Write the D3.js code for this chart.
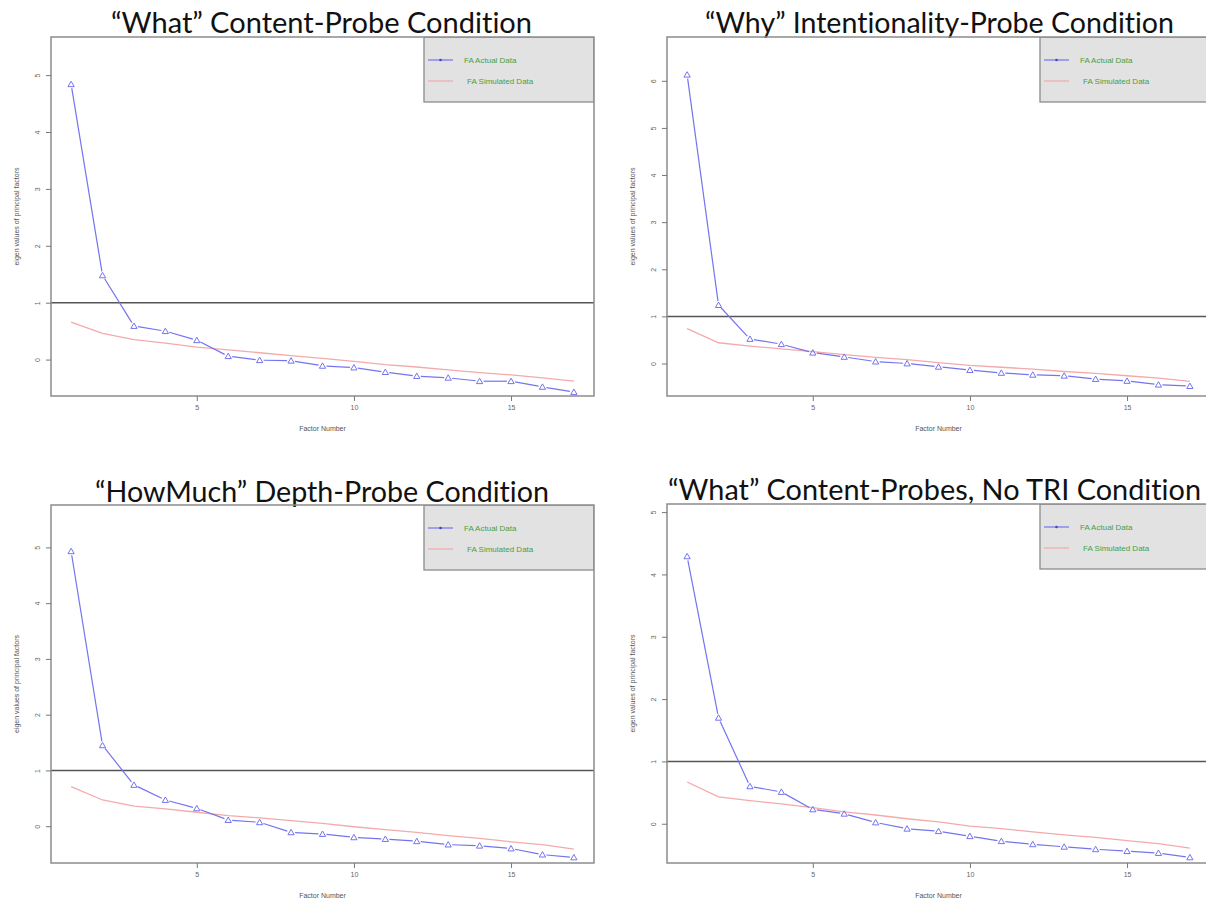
<!DOCTYPE html>
<html>
<head>
<meta charset="utf-8">
<script src="https://cdn.jsdelivr.net/npm/d3@7/dist/d3.min.js"></script>
<style>
  html, body { margin: 0; padding: 0; background: #fff; }
  svg { display: block; }
  .tick-label { font-family: "Liberation Sans", Arial, sans-serif; font-size: 7px; fill: #666; }
  .axis-title { font-family: "Liberation Sans", Arial, sans-serif; font-size: 7px; fill: #555; }
  .legend-text { font-family: "Liberation Sans", Arial, sans-serif; font-size: 8px; fill: #45a045; }
  .panel-title { font-family: "Lato", "Open Sans", sans-serif; font-size: 29px; fill: #111;
                 font-variant-ligatures: none; font-feature-settings: "liga" 0, "clig" 0; }
</style>
</head>
<body>
<svg id="chart" width="1206" height="903"></svg>
<script>
// Factor numbers on the x axis
const factors = [1, 2, 3, 4, 5, 6, 7, 8, 9, 10, 11, 12, 13, 14, 15, 16, 17];

// Panel titles
const titles = [
  "\u201CWhat\u201D Content-Probe Condition",
  "\u201CWhy\u201D Intentionality-Probe Condition",
  "\u201CHowMuch\u201D Depth-Probe Condition",
  "\u201CWhat\u201D Content-Probes, No TRI Condition"
];

// Eigenvalues of the principal factors, actual data
const actualWhat    = [4.84, 1.48, 0.59, 0.50, 0.34, 0.06, -0.01, -0.02, -0.11, -0.14, -0.22, -0.29, -0.32, -0.38, -0.38, -0.48, -0.57];
const actualWhy     = [6.13, 1.24, 0.52, 0.41, 0.23, 0.14, 0.04, 0.00, -0.07, -0.14, -0.20, -0.24, -0.26, -0.33, -0.37, -0.45, -0.48];
const actualHowMuch = [4.93, 1.45, 0.74, 0.47, 0.32, 0.11, 0.07, -0.11, -0.14, -0.20, -0.23, -0.27, -0.33, -0.35, -0.40, -0.51, -0.56];
const actualNoTRI   = [4.29, 1.70, 0.60, 0.51, 0.23, 0.16, 0.02, -0.08, -0.12, -0.20, -0.28, -0.33, -0.37, -0.41, -0.44, -0.47, -0.54];

// Eigenvalues from simulated (random) data
const simWhat    = [0.66, 0.46, 0.35, 0.29, 0.22, 0.17, 0.12, 0.07, 0.02, -0.03, -0.09, -0.13, -0.18, -0.23, -0.27, -0.32, -0.38];
const simWhy     = [0.74, 0.44, 0.37, 0.31, 0.25, 0.19, 0.13, 0.08, 0.02, -0.04, -0.08, -0.12, -0.17, -0.21, -0.26, -0.31, -0.38];
const simHowMuch = [0.71, 0.47, 0.36, 0.31, 0.25, 0.19, 0.15, 0.10, 0.05, -0.01, -0.06, -0.11, -0.17, -0.22, -0.28, -0.33, -0.41];
const simNoTRI   = [0.67, 0.43, 0.37, 0.32, 0.26, 0.19, 0.14, 0.08, 0.03, -0.04, -0.08, -0.13, -0.18, -0.22, -0.27, -0.32, -0.39];

// Axis tick values
const xTicks = [5, 10, 15];
const yTicksFive = [0, 1, 2, 3, 4, 5];
const yTicksSix  = [0, 1, 2, 3, 4, 5, 6];

// Reference line (eigenvalue = 1, Kaiser criterion)
const kaiserLine = 1;

// Legend labels
const legendLabels = ["FA  Actual Data", "FA  Simulated Data"];

// Plot frames and axis limits for each panel
const layout = [
  { left: 51,  top: 37,  right: 594,  bottom: 396, yMin: -0.64, yMax: 5.67, titleX: 111, titleW: 421, titleY: 33 },
  { left: 667, top: 37,  right: 1210, bottom: 396, yMin: -0.69, yMax: 6.93, titleX: 705, titleW: 469, titleY: 33 },
  { left: 51,  top: 505, right: 594,  bottom: 863, yMin: -0.66, yMax: 5.76, titleX: 95,  titleW: 454, titleY: 502 },
  { left: 667, top: 504, right: 1210, bottom: 863, yMin: -0.63, yMax: 5.13, titleX: 668, titleW: 533, titleY: 500 }
];

const panels = [
  { title: titles[0], actual: actualWhat,    sim: simWhat,    yTicks: yTicksFive },
  { title: titles[1], actual: actualWhy,     sim: simWhy,     yTicks: yTicksSix },
  { title: titles[2], actual: actualHowMuch, sim: simHowMuch, yTicks: yTicksFive },
  { title: titles[3], actual: actualNoTRI,   sim: simNoTRI,   yTicks: yTicksFive }
];

const blue = "#7474f0";
const pink = "#f4aaaa";
const frameColor = "#8c8c8c";

const svg = d3.select("#chart");

panels.forEach((p, i) => {
  const L = layout[i];
  const g = svg.append("g");

  const x = d3.scaleLinear().domain([0.36, 17.64]).range([L.left, L.right]);
  const y = d3.scaleLinear().domain([L.yMin, L.yMax]).range([L.bottom, L.top]);

  // Title
  g.append("text")
    .attr("class", "panel-title")
    .attr("x", L.titleX)
    .attr("y", L.titleY)
    .attr("textLength", L.titleW)
    .attr("lengthAdjust", "spacingAndGlyphs")
    .text(p.title);

  // Clip region for everything drawn inside the frame
  const clipId = "clip" + i;
  g.append("clipPath").attr("id", clipId)
    .append("rect")
    .attr("x", L.left).attr("y", L.top)
    .attr("width", L.right - L.left).attr("height", L.bottom - L.top);

  const inner = g.append("g").attr("clip-path", `url(#${clipId})`);

  // Kaiser reference line
  inner.append("line")
    .attr("x1", L.left).attr("x2", L.right)
    .attr("y1", y(kaiserLine)).attr("y2", y(kaiserLine))
    .attr("stroke", "#555").attr("stroke-width", 1.5);

  // Simulated data line
  const line = d3.line().x((d, k) => x(factors[k])).y(d => y(d));
  inner.append("path")
    .datum(p.sim)
    .attr("d", line)
    .attr("fill", "none")
    .attr("stroke", pink)
    .attr("stroke-width", 1.3);

  // Actual data: line segments with gaps around the point symbols
  const pts = p.actual.map((v, k) => [x(factors[k]), y(v)]);
  const gap = 4;
  for (let k = 0; k < pts.length - 1; k++) {
    const [x0, y0] = pts[k], [x1, y1] = pts[k + 1];
    const len = Math.hypot(x1 - x0, y1 - y0);
    if (len <= 2 * gap) continue;
    const ux = (x1 - x0) / len, uy = (y1 - y0) / len;
    inner.append("line")
      .attr("x1", x0 + ux * gap).attr("y1", y0 + uy * gap)
      .attr("x2", x1 - ux * gap).attr("y2", y1 - uy * gap)
      .attr("stroke", blue).attr("stroke-width", 1.2);
  }

  // Open triangle markers
  const tri = d3.symbol().type(d3.symbolTriangle).size(17);
  inner.selectAll("path.pt")
    .data(p.actual)
    .join("path")
    .attr("class", "pt")
    .attr("d", tri)
    .attr("transform", (d, k) => `translate(${x(factors[k])},${y(d) + 0.6})`)
    .attr("fill", "none")
    .attr("stroke", blue)
    .attr("stroke-width", 1);

  // Legend box
  const lw = 170, lh = 65;
  const lx = L.right - lw, ly = L.top;
  inner.append("rect")
    .attr("x", lx).attr("y", ly).attr("width", lw).attr("height", lh)
    .attr("fill", "#e2e2e2").attr("stroke", frameColor).attr("stroke-width", 1.3);

  // Legend: actual data
  inner.append("line")
    .attr("x1", lx + 4).attr("x2", lx + 29)
    .attr("y1", ly + 23).attr("y2", ly + 23)
    .attr("stroke", blue).attr("stroke-width", 1.2);
  inner.append("circle")
    .attr("cx", lx + 16.5).attr("cy", ly + 23).attr("r", 1.3)
    .attr("fill", "#4545c8");
  inner.append("text").attr("class", "legend-text")
    .attr("x", lx + 40).attr("y", ly + 26)
    .text(legendLabels[0]);

  // Legend: simulated data
  inner.append("line")
    .attr("x1", lx + 4).attr("x2", lx + 29)
    .attr("y1", ly + 44).attr("y2", ly + 44)
    .attr("stroke", pink).attr("stroke-width", 1.2);
  inner.append("text").attr("class", "legend-text")
    .attr("x", lx + 43).attr("y", ly + 47)
    .text(legendLabels[1]);

  // Frame
  g.append("rect")
    .attr("x", L.left).attr("y", L.top)
    .attr("width", L.right - L.left).attr("height", L.bottom - L.top)
    .attr("fill", "none").attr("stroke", frameColor).attr("stroke-width", 1.5);

  // X axis
  const xAxis = d3.axisBottom(x).tickValues(xTicks).tickSize(5).tickPadding(4).tickFormat(d3.format("d"));
  const xa = g.append("g").attr("transform", `translate(0,${L.bottom})`).call(xAxis);
  xa.select(".domain").remove();
  xa.selectAll(".tick line").attr("stroke", "#777");
  xa.selectAll(".tick text").attr("class", "tick-label").attr("font-size", null).attr("font-family", null).attr("fill", null);

  // Y axis with labels parallel to the axis
  const yAxis = d3.axisLeft(y).tickValues(p.yTicks).tickSize(5).tickFormat(d3.format("d"));
  const ya = g.append("g").attr("transform", `translate(${L.left},0)`).call(yAxis);
  ya.select(".domain").remove();
  ya.selectAll(".tick line").attr("stroke", "#777");
  ya.selectAll(".tick text")
    .attr("class", "tick-label")
    .attr("font-size", null).attr("font-family", null).attr("fill", null)
    .attr("x", null)
    .attr("text-anchor", "middle")
    .attr("transform", "translate(-13,0) rotate(-90)")
    .attr("dy", "0.32em");

  // Axis titles
  g.append("text").attr("class", "axis-title")
    .attr("x", (L.left + L.right) / 2)
    .attr("y", L.bottom + 35)
    .attr("text-anchor", "middle")
    .text("Factor Number");

  g.append("text").attr("class", "axis-title")
    .attr("transform", `translate(${L.left - 32},${(L.top + L.bottom) / 2}) rotate(-90)`)
    .attr("text-anchor", "middle")
    .text("eigen values of principal factors");
});
</script>
</body>
</html>
